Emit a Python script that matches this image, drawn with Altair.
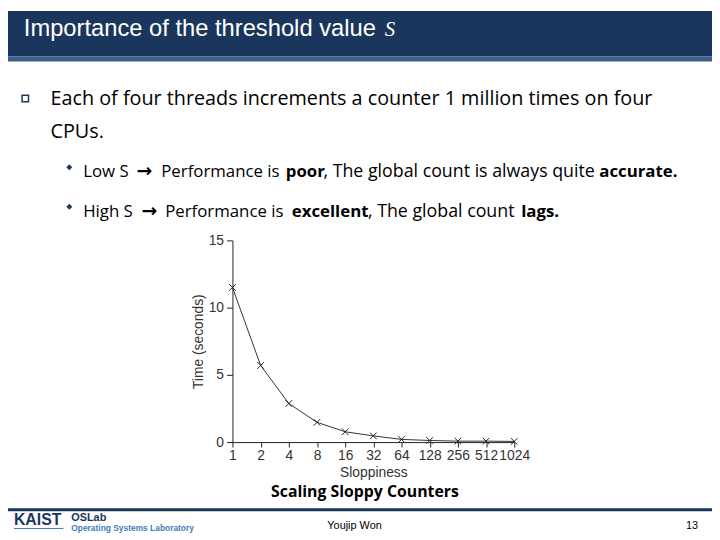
import altair as alt
import pandas as pd

# ---- data ----
sloppiness = [1, 2, 4, 8, 16, 32, 64, 128, 256, 512, 1024]
time_seconds = [11.5, 5.7, 2.87, 1.47, 0.77, 0.46, 0.2, 0.12, 0.07, 0.07, 0.05]
y_ticks = [0, 5, 10, 15]

NAVY = "#1b365d"
STRIP = "#3e5f8c"
TEXTF = "Open Sans"
W, H = 712, 532

df = pd.DataFrame({"s": sloppiness, "t": time_seconds})
one = pd.DataFrame({"a": [0]})


def box(x1, x2, y1, y2, color):
    return alt.Chart(one).mark_rect(color=color).encode(
        x=alt.value(x1), x2=alt.value(x2), y=alt.value(y1), y2=alt.value(y2)
    )


def txt(s, x, y, size, color="black", font=TEXTF, weight="normal", align="left", style="normal"):
    return alt.Chart(one).mark_text(
        text=s, align=align, baseline="alphabetic", fontSize=size, font=font,
        fontWeight=weight, fontStyle=style, color=color
    ).encode(x=alt.value(x), y=alt.value(y))


def pt(x, y, shape, size, filled=True, color=NAVY, sw=1.5):
    return alt.Chart(one).mark_point(
        shape=shape, size=size, filled=filled, color=color, strokeWidth=sw, opacity=1
    ).encode(x=alt.value(x), y=alt.value(y))


xs = alt.Scale(type="log", base=2, domain=[1, 1024], range=[227, 512], nice=False)
ys = alt.Scale(domain=[0, 15], range=[436, 232], nice=False, zero=False)

x_axis = alt.Axis(
    values=sloppiness, format="d", labelOverlap=False, labelFlush=False, offset=-96,
    grid=False, tickSize=5, domainColor="#222", tickColor="#222", labelColor="#333",
    labelFont="Liberation Sans", labelFontSize=14, labelPadding=2,
    title="Sloppiness", titleFont="Liberation Sans", titleFontSize=14,
    titleFontWeight="normal", titleColor="#333", titleY=35, titleBaseline="alphabetic",
)
y_axis = alt.Axis(
    values=y_ticks, offset=-227, grid=False, tickSize=6, domainColor="#222",
    tickColor="#222", labelColor="#333", labelFont="Liberation Sans", labelFontSize=14,
    labelPadding=3, title="Time (seconds)", titleFont="Liberation Sans", titleFontSize=14,
    titleFontWeight="normal", titleColor="#333", titleX=-34, titleBaseline="middle",
    titleAlign="center", titleAngle=-90,
)

line = alt.Chart(df).mark_line(color="#333", strokeWidth=1).encode(
    x=alt.X("s:Q", scale=xs, axis=x_axis),
    y=alt.Y("t:Q", scale=ys, axis=y_axis),
)
marks = alt.Chart(df).mark_point(
    shape="M-1,-1L1,1M-1,1L1,-1", size=45, filled=False, color="#222", strokeWidth=1, opacity=1
).encode(x=alt.X("s:Q", scale=xs), y=alt.Y("t:Q", scale=ys))

ARROW = "\u2192"
SUB = 17
SUBW = 18
SUBB = 17

layers = [
    # header
    box(0, W, 0, 46, NAVY),
    box(0, W, 46, 51, STRIP),
    txt("Importance of the threshold value", 16, 25, 24, "white", "Liberation Sans"),
    txt("S", 381, 25, 21, "white", "Liberation Serif", style="italic"),
    # bullets
    pt(17.5, 88.5, "square", 42, filled=False),
    txt("Each of four threads increments a counter 1 million times on four", 43, 95, 20),
    txt("CPUs.", 43, 128, 20),
    pt(62, 158, "diamond", 36),
    txt("Low S", 76, 168, SUB),
    txt(ARROW, 130, 168, 19, font="DejaVu Sans", weight="bold"),
    txt("Performance is", 155, 168, SUB),
    txt("poor", 281, 168, SUBB, weight="bold"),
    txt(", The global count is always quite", 319, 168, SUBW),
    txt("accurate.", 598, 168, SUBB, weight="bold"),
    pt(62, 198, "diamond", 36),
    txt("High S", 76, 208, SUB),
    txt(ARROW, 135, 208, 19, font="DejaVu Sans", weight="bold"),
    txt("Performance is", 159, 208, SUB),
    txt("excellent", 287, 208, SUBB, weight="bold"),
    txt(", The global count", 364, 208, SUBW),
    txt("lags.", 519, 208, SUBB, weight="bold"),
    # chart
    line,
    marks,
    txt("Scaling Sloppy Counters", 361, 492, 16, weight="bold", align="center"),
    # footer
    box(0, W, 503, 506, NAVY),
    txt("KAIST", 6, 520, 16, NAVY, "Liberation Sans", weight="bold"),
    box(6, 56, 523, 524, "#4a7fc0"),
    txt("OSLab", 64, 516, 11, NAVY, "Liberation Sans", weight="bold"),
    txt("Operating Systems Laboratory", 64, 526, 8.5, "#3f7cc0", "Liberation Sans", weight="bold"),
    txt("Youjip Won", 323, 524, 11, "black", "Liberation Sans"),
    txt("13", 698, 524, 11, "black", "Liberation Sans", align="right"),
]

chart = alt.layer(*layers).properties(
    width=W, height=H, padding=0, autosize=alt.AutoSizeParams(type="none")
).configure_view(stroke=None)

chart.save("out.html", embed_options={"renderer": "svg", "actions": False})
